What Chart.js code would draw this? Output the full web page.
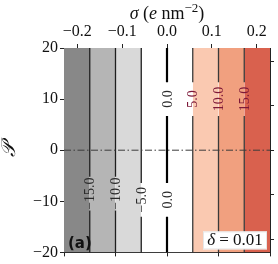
<!DOCTYPE html>
<html>
<head>
<meta charset="utf-8">
<script src="https://cdn.jsdelivr.net/npm/chart.js@4.4.1/dist/chart.umd.min.js"></script>
<style>
  html, body { margin: 0; padding: 0; background: #fff; }
</style>
</head>
<body>
<canvas id="chart" width="278" height="264"></canvas>
<script>
// contour bands in the hidden bottom-axis units, sigma on the top axis
const bandEdges = [-20, -15, -10, -5, 0, 5, 10, 15, 20];
const levels = [-15, -10, -5, 0, 5, 10, 15];
const labelLevels = [-15, -10, -5, 0, 0, 5, 10, 15];
const labelP = [-8.5, -8.5, -9.7, -9.7, 10, 10, 10, 10];
const bottomTicks = [-20, -10, 0, 10, 20];
const sigmaTicks = [-0.2, -0.1, 0.0, 0.1, 0.2];
const sigmaRange = [-0.2296, 0.2296];
const pTicks = [-20, -10, 0, 10, 20];
const pRange = [-20, 20];
const refP = 0;
const deltaValue = '0.01';

const bandColors = ['#888888', '#b5b5b5', '#d9d9d9', '#ffffff', '#ffffff', '#fac9b1', '#f1a07f', '#d9614e'];
const gap = 3.3;
const serif = '"Liberation Serif", "DejaVu Serif", serif';
const axisColor = '#222';

const minus = v => (v < -1e-9 ? '\u2212' : '') + Math.abs(v);
const fmt = (v, d) => (v < -1e-9 ? '\u2212' : '') + Math.abs(v).toFixed(d);

const bandSets = bandColors.map((c, i) => ({
    data: [{ x: bandEdges[i], y: pRange[1] }, { x: bandEdges[i + 1], y: pRange[1] }],
    fill: 'start',
    backgroundColor: c,
    borderWidth: 0,
    pointRadius: 0,
    order: 3
}));

const lineSets = levels.map(v => {
    const pts = [{ x: v, y: pRange[0] }];
    labelP.forEach((p, i) => {
        if (labelLevels[i] === v) {
            pts.push({ x: v, y: p - gap }, { x: v, y: null }, { x: v, y: p + gap });
        }
    });
    pts.push({ x: v, y: pRange[1] });
    return {
        data: pts,
        borderColor: v === 0 ? '#000' : (v > 0 ? '#3a3a3a' : '#1e1e1e'),
        borderWidth: v === 0 ? 2.2 : 1.3,
        pointRadius: 0,
        fill: false,
        spanGaps: false,
        order: 1
    };
});

const refSet = {
    data: [{ x: bandEdges[0], y: refP }, { x: bandEdges[bandEdges.length - 1], y: refP }],
    borderColor: '#3c3c3c',
    borderWidth: 1,
    borderDash: [7, 2.5, 1.5, 2.5],
    pointRadius: 0,
    fill: false,
    order: 0
};

const setTicks = list => s => { s.ticks = list.map(v => ({ value: v })); };
const gridOpts = { drawOnChartArea: false, drawTicks: true, tickLength: 4, color: axisColor, lineWidth: 1 };
const borderOpts = { display: true, color: axisColor, width: 1 };

const contourLabels = {
    id: 'contourLabels',
    afterDatasetsDraw(chart) {
        const { ctx } = chart;
        const xs = chart.scales.x, ys = chart.scales.y;
        ctx.save();
        ctx.font = '14px ' + serif;
        ctx.textAlign = 'center';
        ctx.textBaseline = 'middle';
        labelLevels.forEach((v, i) => {
            ctx.save();
            ctx.translate(xs.getPixelForValue(v), ys.getPixelForValue(labelP[i]));
            ctx.rotate(-Math.PI / 2);
            ctx.fillStyle = v > 0 ? '#7d1838' : '#2a2a2a';
            ctx.fillText(fmt(v, 1), 0, 1);
            ctx.restore();
        });
        ctx.restore();
    }
};

const annotations = {
    id: 'annotations',
    afterDraw(chart) {
        const { ctx, chartArea: a } = chart;
        ctx.save();

        // top axis title: sigma (e nm^-2)
        const parts = [
            ['σ', 'italic 18px '],
            [' (', '18px '],
            ['e', 'italic 18px '],
            [' nm', '18px '],
            ['\u22122', '13px '],
            [')', '18px ']
        ];
        let w = 0;
        parts.forEach(p => { ctx.font = p[1] + serif; w += ctx.measureText(p[0]).width; });
        let x = (a.left + a.right) / 2 - w / 2;
        ctx.fillStyle = '#111';
        ctx.textBaseline = 'alphabetic';
        ctx.textAlign = 'left';
        parts.forEach((p, i) => {
            ctx.font = p[1] + serif;
            ctx.fillText(p[0], x, i === 4 ? 12 : 19);
            x += ctx.measureText(p[0]).width;
        });

        // y axis label
        ctx.save();
        ctx.translate(15, (a.top + a.bottom) / 2);
        ctx.rotate(-Math.PI / 2);
        ctx.textAlign = 'center';
        ctx.font = 'italic 20px "DejaVu Sans", serif';
        ctx.fillText('𝒫', 0, 0);
        ctx.restore();

        // panel tag
        ctx.font = 'bold 15px "DejaVu Sans", sans-serif';
        ctx.fillStyle = '#111';
        ctx.fillText('(a)', a.left + 4, a.bottom - 4);

        // delta box
        const bw = 64, bh = 18;
        const bx = a.right - 3 - bw, by = a.bottom - 3 - bh;
        ctx.fillStyle = '#fff';
        ctx.fillRect(bx, by, bw, bh);
        ctx.strokeStyle = '#e6e6e6';
        ctx.lineWidth = 1;
        ctx.strokeRect(bx + 0.5, by + 0.5, bw - 1, bh - 1);
        ctx.fillStyle = '#111';
        const t1 = 'δ', t2 = ' = ' + deltaValue;
        ctx.font = 'italic 17px ' + serif;
        const w1 = ctx.measureText(t1).width;
        ctx.font = '17px ' + serif;
        const w2 = ctx.measureText(t2).width;
        let tx = bx + (bw - w1 - w2) / 2;
        ctx.font = 'italic 17px ' + serif;
        ctx.fillText(t1, tx, by + bh - 4);
        ctx.font = '17px ' + serif;
        ctx.fillText(t2, tx + w1, by + bh - 4);

        ctx.restore();
    }
};

new Chart(document.getElementById('chart'), {
    type: 'line',
    data: { datasets: [refSet, ...lineSets, ...bandSets] },
    plugins: [contourLabels, annotations],
    options: {
        responsive: false,
        animation: false,
        layout: { padding: 0 },
        plugins: { legend: { display: false }, tooltip: { enabled: false } },
        scales: {
            x: {
                type: 'linear', position: 'bottom', min: bandEdges[0], max: bandEdges[bandEdges.length - 1],
                afterBuildTicks: setTicks(bottomTicks),
                afterFit: s => { s.height = 9; },
                ticks: { display: false },
                grid: gridOpts, border: borderOpts
            },
            xTop: {
                type: 'linear', position: 'top', min: sigmaRange[0], max: sigmaRange[1],
                afterBuildTicks: setTicks(sigmaTicks),
                afterFit: s => { s.height = 48; },
                ticks: { autoSkip: false, maxRotation: 0, padding: 3, color: '#111', font: { family: serif, size: 16 }, callback: v => fmt(v, 1) },
                grid: gridOpts, border: borderOpts
            },
            y: {
                type: 'linear', position: 'left', min: pRange[0], max: pRange[1],
                afterBuildTicks: setTicks(pTicks),
                afterFit: s => { s.width = 64; },
                ticks: { autoSkip: false, padding: 2, color: '#111', font: { family: serif, size: 16 }, callback: v => minus(v) },
                grid: gridOpts, border: borderOpts
            },
            yR: {
                type: 'linear', position: 'right', min: sigmaRange[0], max: sigmaRange[1],
                afterBuildTicks: setTicks(sigmaTicks),
                afterFit: s => { s.width = 8; },
                ticks: { display: false, color: 'rgba(0,0,0,0)' },
                grid: gridOpts, border: borderOpts
            }
        }
    }
});
</script>
</body>
</html>
